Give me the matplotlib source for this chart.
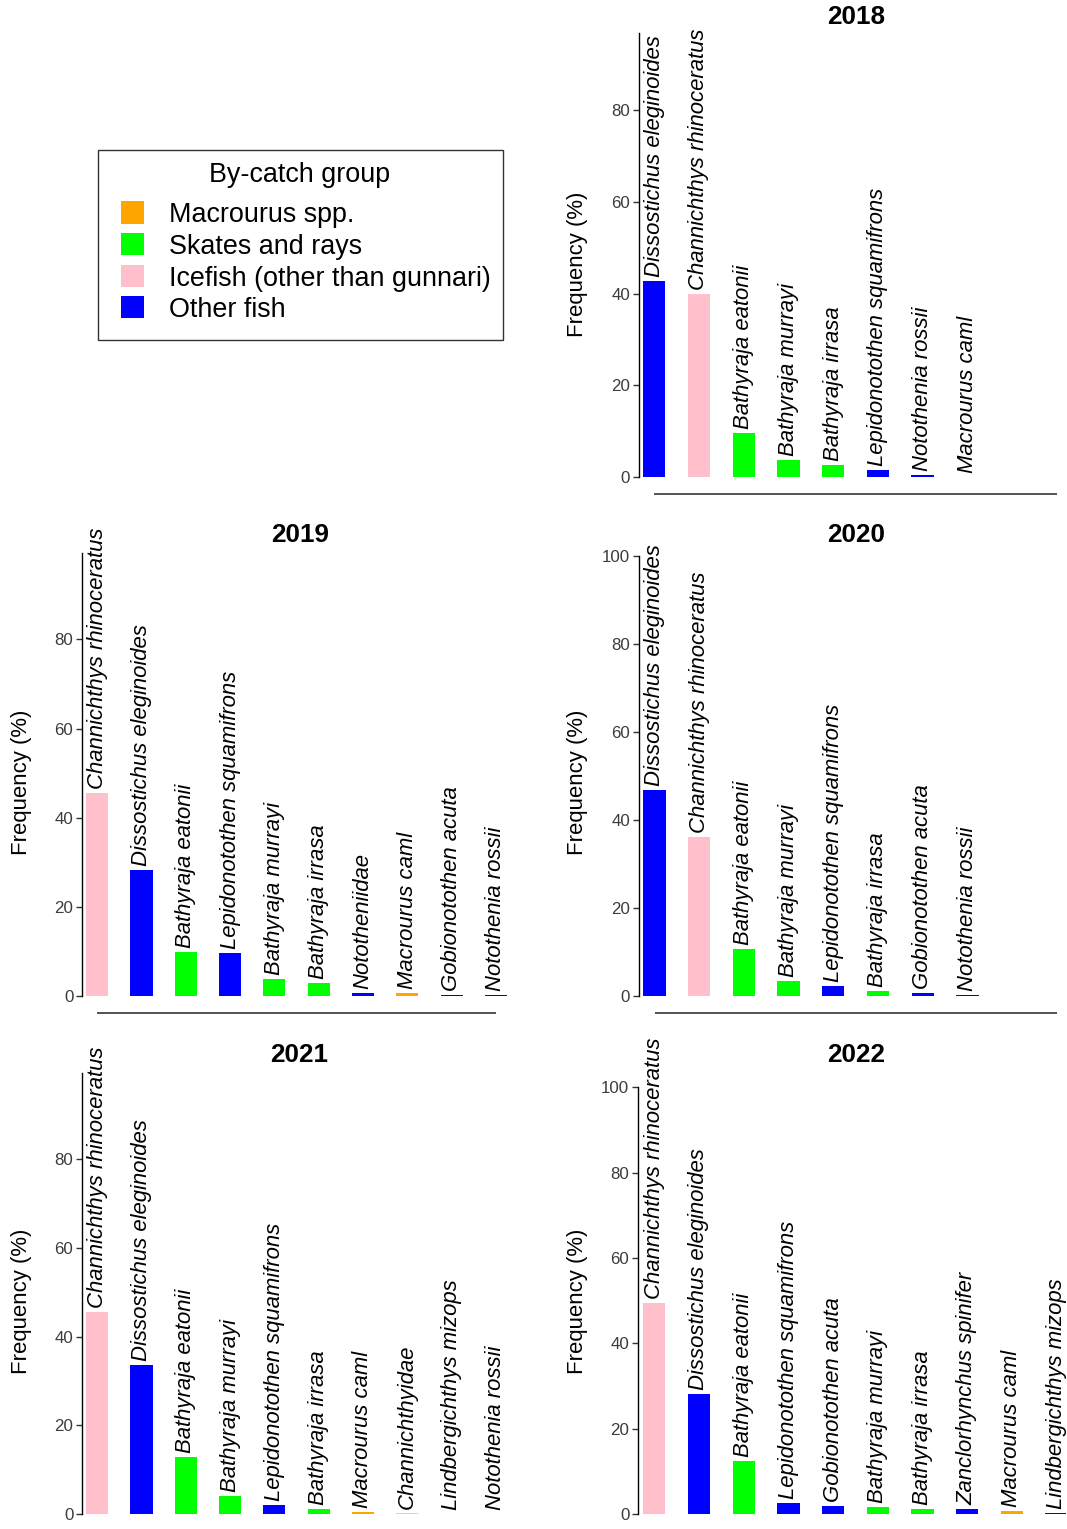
import matplotlib
matplotlib.use("Agg")
import matplotlib.pyplot as plt
from matplotlib.patches import Rectangle
from matplotlib.transforms import offset_copy

plt.rcParams["font.family"] = ["Liberation Sans", "DejaVu Sans"]

# ---- data -------------------------------------------------------------
group_names = ["Macrourus spp.", "Skates and rays",
               "Icefish (other than gunnari)", "Other fish"]
group_colors = ["#FFA500", "#00FF00", "#FFC0CB", "#0000FF"]

species_2018 = ["Dissostichus eleginoides", "Channichthys rhinoceratus",
                "Bathyraja eatonii", "Bathyraja murrayi", "Bathyraja irrasa",
                "Lepidonotothen squamifrons", "Notothenia rossii", "Macrourus caml"]
freq_2018 = [42.7, 40.0, 9.7, 3.7, 2.6, 1.5, 0.4, 0.05]
group_2018 = [3, 2, 1, 1, 1, 3, 3, 0]

species_2019 = ["Channichthys rhinoceratus", "Dissostichus eleginoides",
                "Bathyraja eatonii", "Lepidonotothen squamifrons",
                "Bathyraja murrayi", "Bathyraja irrasa", "Nototheniidae",
                "Macrourus caml", "Gobionotothen acuta", "Notothenia rossii"]
freq_2019 = [45.5, 28.3, 9.8, 9.6, 3.8, 3.0, 0.6, 0.6, 0.3, 0.3]
group_2019 = [2, 3, 1, 3, 1, 1, 3, 0, 3, 3]

species_2020 = ["Dissostichus eleginoides", "Channichthys rhinoceratus",
                "Bathyraja eatonii", "Bathyraja murrayi",
                "Lepidonotothen squamifrons", "Bathyraja irrasa",
                "Gobionotothen acuta", "Notothenia rossii"]
freq_2020 = [46.8, 36.2, 10.6, 3.4, 2.3, 1.1, 0.6, 0.3]
group_2020 = [3, 2, 1, 1, 3, 1, 3, 3]

species_2021 = ["Channichthys rhinoceratus", "Dissostichus eleginoides",
                "Bathyraja eatonii", "Bathyraja murrayi",
                "Lepidonotothen squamifrons", "Bathyraja irrasa",
                "Macrourus caml", "Channichthyidae", "Lindbergichthys mizops",
                "Notothenia rossii"]
freq_2021 = [45.6, 33.6, 12.8, 4.1, 2.0, 1.05, 0.5, 0.3, 0.05, 0.05]
group_2021 = [2, 3, 1, 1, 3, 1, 0, 2, 3, 3]

species_2022 = ["Channichthys rhinoceratus", "Dissostichus eleginoides",
                "Bathyraja eatonii", "Lepidonotothen squamifrons",
                "Gobionotothen acuta", "Bathyraja murrayi", "Bathyraja irrasa",
                "Zanclorhynchus spinifer", "Macrourus caml",
                "Lindbergichthys mizops"]
freq_2022 = [49.5, 28.1, 12.5, 2.5, 1.9, 1.6, 1.1, 1.1, 0.8, 0.3]
group_2022 = [2, 3, 1, 3, 3, 1, 1, 3, 0, 3]

years = ["2018", "2019", "2020", "2021", "2022"]
species_by_year = [species_2018, species_2019, species_2020, species_2021, species_2022]
freq_by_year = [freq_2018, freq_2019, freq_2020, freq_2021, freq_2022]
group_by_year = [group_2018, group_2019, group_2020, group_2021, group_2022]
ytop_by_year = [96.8, 99.3, 100, 99.5, 100]

# ---- layout (pixels) --------------------------------------------------
W, H = 1067, 1529
fig = plt.figure(figsize=(W / 100, H / 100), dpi=100)


def fx(x):
    return x / W


def fy(y):
    return 1 - y / H


# spine x, first bar centre x, bar spacing, panel top, zero line y
panel_px = [
    (639.0, 654.3, 44.7, 33.0, 477.0),
    (82.3, 97.2, 44.3, 553.3, 996.0),
    (639.0, 654.5, 44.7, 555.7, 996.0),
    (82.3, 97.2, 44.3, 1072.7, 1514.0),
    (638.3, 654.3, 44.7, 1087.3, 1514.0),
]
title_px = [(856, 17), (300, 535), (856, 535), (299, 1055), (856, 1055)]
ylabel_px = [(578, 264), (22, 782), (578, 782), (22, 1301), (578, 1301)]
PANEL_W = 428.0

for k, year in enumerate(years):
    sx, b1, sp, top, y0 = panel_px[k]
    ax = fig.add_axes([fx(sx), fy(y0), PANEL_W / W, (y0 - top) / H])
    x0 = 1 - (b1 - sx) / sp
    ax.set_xlim(x0, x0 + PANEL_W / sp)
    ax.set_ylim(0, ytop_by_year[k])

    names = species_by_year[k]
    vals = freq_by_year[k]
    cols = [group_colors[g] for g in group_by_year[k]]
    xs = list(range(1, len(names) + 1))
    ax.bar(xs, vals, width=0.5, color=cols, linewidth=0)

    for x, v, name in zip(xs, vals, names):
        ax.annotate(name, (x, v), xytext=(0, 4), textcoords="offset pixels",
                    rotation=90, ha="center", va="bottom", fontsize=15.9,
                    fontstyle="italic", annotation_clip=False, clip_on=False)

    # base line a fixed distance beneath the bars
    below = offset_copy(ax.transData, fig=fig, y=-16.5, units="dots")
    ax.plot([1, 10], [0, 0], color="#444444", lw=1.3, transform=below,
            clip_on=False, solid_capstyle="butt")

    for s in ["top", "right", "bottom"]:
        ax.spines[s].set_visible(False)
    ax.spines["left"].set_color("black")
    ax.spines["left"].set_linewidth(1.0)
    ax.set_xticks([])
    ticks = [t for t in [0, 20, 40, 60, 80, 100] if t <= ytop_by_year[k]]
    ax.set_yticks(ticks)
    ax.tick_params(axis="y", length=4, width=1, color="#333333",
                   labelcolor="#3C3C3C", labelsize=12.2, pad=2.5)
    ax.patch.set_alpha(0)

    tx, ty = title_px[k]
    fig.text(fx(tx), fy(ty), year, ha="center", va="center",
             fontsize=18.8, fontweight="bold")
    lx, ly = ylabel_px[k]
    fig.text(fx(lx), fy(ly), "Frequency (%)", rotation=90,
             ha="center", va="center", fontsize=15.9)

# ---- legend box -------------------------------------------------------
fig.patches.append(Rectangle((fx(98), fy(340)), (503 - 98) / W, (340 - 150) / H,
                             transform=fig.transFigure, facecolor="white",
                             edgecolor="#333333", linewidth=1.0))
fig.text(fx(300), fy(181.7), "By-catch group", ha="center", va="baseline",
         fontsize=19.4)
row_centres = [212.5, 244.2, 275.9, 307.1]
for yc, name, col in zip(row_centres, group_names, group_colors):
    fig.patches.append(Rectangle((fx(121), fy(yc + 11)), 23 / W, 22 / H,
                                 transform=fig.transFigure, facecolor=col,
                                 edgecolor="none"))
    fig.text(fx(169), fy(yc + 10), name, ha="left", va="baseline",
             fontsize=19.4)

fig.savefig("out.png", dpi=100)
